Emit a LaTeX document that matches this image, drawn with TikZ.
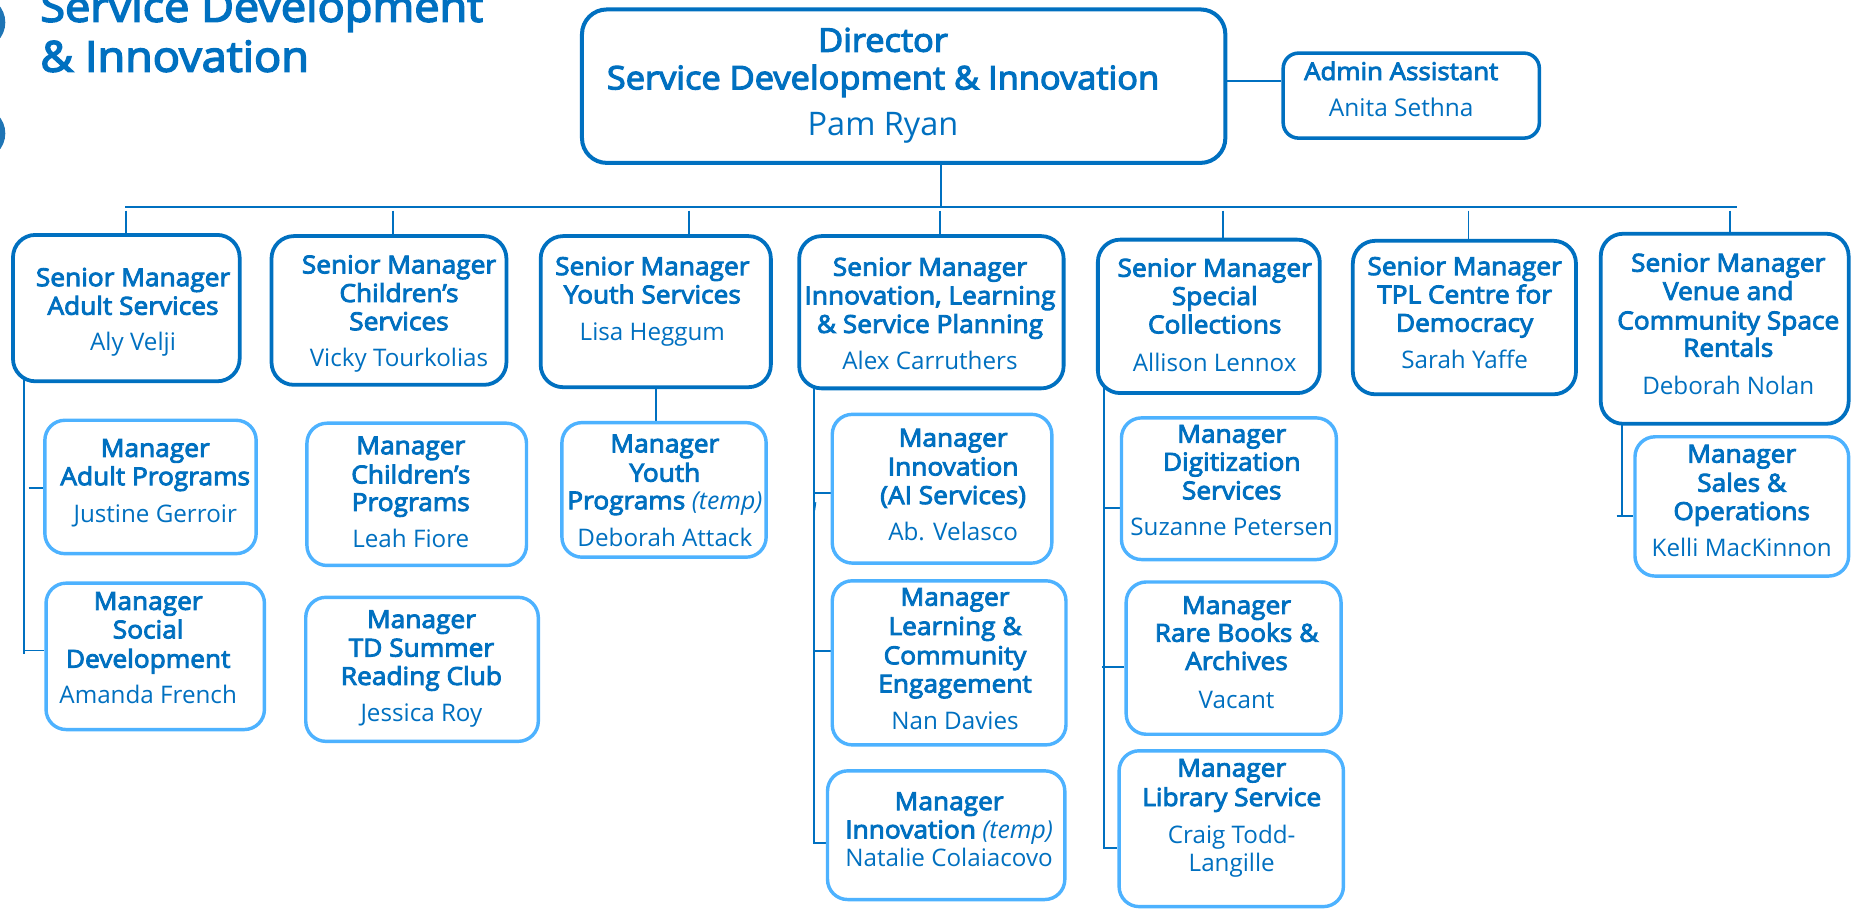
\documentclass[tikz,border=0pt]{standalone}
\usepackage{fontspec}
\setmainfont{Open Sans}
\newfontfamily\bfam{Open Sans}[FakeBold=3.6, FakeStretch=1.06]
\definecolor{dkb}{HTML}{0070C0}
\definecolor{ltb}{HTML}{4DB2FF}
\definecolor{dotb}{HTML}{1F75B5}
\pgfdeclarelayer{bg}
\pgfsetlayers{bg,main}
\tikzset{
  sbox/.style={draw=dkb, line width=3.2pt, rounded corners=19pt, fill=white},
  mbox/.style={draw=ltb, line width=2.9pt, rounded corners=17pt, fill=white},
  dbox/.style={draw=dkb, line width=3.4pt, rounded corners=21pt, fill=white},
  abox/.style={draw=dkb, line width=3pt, rounded corners=13pt, fill=white},
  conn/.style={draw=dkb, line width=1.6pt},
  lbl/.style={text=dkb, inner sep=0pt, anchor=base, font=\fontsize{21}{24}\selectfont},
  ttl/.style={text=dkb, inner sep=0pt, anchor=base west, font=\fontsize{36}{42}\selectfont\bfam},
}
\newcommand\orgbox[6]{%
  \node[#6, rectangle, inner sep=0pt, minimum width={(#4-#2)*1pt}, minimum height={(#5-#3)*1pt}] (#1) at ({(#2+#4)/2},{(#3+#5)/2}) {};}
\newcommand\orgtext[4][]{%
  \foreach \yy/\tx [count=\i] in {#4} {\node[lbl,#1] (#2-\i) at (#3,\yy) {\tx};}}
\newcommand\N[1]{{\fontsize{20.5}{24}\selectfont #1}}
\newcommand\B[1]{{\bfam #1}}
\begin{document}
\begin{tikzpicture}[x=1pt,y=-1pt]
\useasboundingbox (0,0) rectangle (1568,770);
\clip (0,0) rectangle (1568,770);
% decorative dots at left edge
\fill[dotb] (-18,19) circle (22.5);
\fill[dotb] (-18,113) circle (22.5);
% title
\node[ttl] (title1) at (34,18.4) {Service Development};
\node[ttl] (title2) at (34,60.7) {\& Innovation};

% boxes
\orgbox{dir}{493}{8}{1038}{138}{dbox}
\orgbox{admin}{1087}{45}{1304}{117}{abox}
\orgbox{s1}{11}{199}{203}{323}{sbox}
\orgbox{s2}{230}{200}{429}{326}{sbox}
\orgbox{s3}{458}{200}{653}{328}{sbox}
\orgbox{s4}{677}{200}{901}{329}{sbox}
\orgbox{s5}{930}{203}{1118}{333}{sbox}
\orgbox{s6}{1146}{204}{1335}{334}{sbox}
\orgbox{s7}{1356}{198}{1566}{359}{sbox}
\orgbox{m1}{38}{356}{217}{469}{mbox}
\orgbox{m2}{39}{494}{224}{618}{mbox}
\orgbox{m3}{260}{358.5}{446}{479}{mbox}
\orgbox{m4}{259}{506}{456}{628}{mbox}
\orgbox{m5}{476}{358}{649}{472}{mbox}
\orgbox{m6}{705}{351}{891}{477}{mbox}
\orgbox{m7}{705}{492}{903}{631}{mbox}
\orgbox{m8}{701}{653}{902}{762}{mbox}
\orgbox{m9}{950}{354}{1132}{474}{mbox}
\orgbox{m10}{954}{493}{1136}{622}{mbox}
\orgbox{m11}{948}{636}{1138}{768}{mbox}
\orgbox{m12}{1385}{370}{1566}{488}{mbox}

% connectors
\coordinate (ya) at (1060,68.3);
\coordinate (jd) at (797,175.4);
\coordinate (jd2) at (796.5,178.5);
\coordinate (bl) at (106,175.4);
\coordinate (br) at (1471.5,175.4);
\coordinate (j1) at (106.7,178.5);
\coordinate (j2) at (332.8,178.5);
\coordinate (j3) at (583.7,178.5);
\coordinate (j5) at (1036,178.5);
\coordinate (j6) at (1244,178.5);
\coordinate (j7) at (1465.5,178.5);
\coordinate (av) at (20.3,554);
\coordinate (at1) at (24.2,413.3);
\coordinate (at2) at (20.3,551);
\coordinate (yv) at (555.7,0);
\coordinate (iv) at (689.5,714.4);
\coordinate (it1) at (689.5,417.9);
\coordinate (it2) at (689.5,551.2);
\coordinate (mk1) at (690.9,425.5);
\coordinate (mk2) at (689.9,432.5);
\coordinate (sv) at (935,718);
\coordinate (st1) at (935,430.2);
\coordinate (st2) at (933.5,565.3);
\coordinate (vv) at (1373.7,437);
\coordinate (vt) at (1369.5,437.1);
\begin{pgfonlayer}{bg}
\draw[conn] (dir.east |- ya) -- (admin.west |- ya);
\draw[conn] (dir.center -| jd) -- (jd);
\draw[conn] (jd2) -- (s4.center -| jd2);
\draw[conn] (bl) -- (br);
\draw[conn] (j1) -- (s1.center -| j1);
\draw[conn] (j2) -- (s2.center -| j2);
\draw[conn] (j3) -- (s3.center -| j3);
\draw[conn] (j5) -- (s5.center -| j5);
\draw[conn] (j6) -- (s6.center -| j6);
\draw[conn] (j7) -- (s7.center -| j7);
% adult
\draw[conn] (s1.center -| av) -- (av);
\draw[conn] (at1) -- (m1.west |- at1);
\draw[conn] (at2) -- (m2.west |- at2);
% youth
\draw[conn] (s3.center -| yv) -- (m5.center -| yv);
% innovation
\draw[conn] (s4.center -| iv) -- (iv) -- (m8.west |- iv);
\draw[conn] (it1) -- (m6.west |- it1);
\draw[conn] (it2) -- (m7.west |- it2);
\draw[conn, line width=1.2pt] (mk1) -- (mk2);
% special collections
\draw[conn] (s5.center -| sv) -- (sv) -- (m11.west |- sv);
\draw[conn] (st1) -- (m9.west |- st1);
\draw[conn] (st2) -- (m10.west |- st2);
% venue
\draw[conn] (s7.center -| vv) -- (vv);
\draw[conn] (vt) -- (m12.west |- vt);
\end{pgfonlayer}

% texts
\orgtext[font=\fontsize{27.5}{32}\selectfont]{dirt}{748}{43.8/{\B{Director}}, 75.7/{\B{Service Development \& Innovation}}, 114.4/{Pam Ryan}}
\orgtext[font=\fontsize{20.7}{24}\selectfont]{admint}{1187}{67.8/{\B{Admin Assistant}}, 98.3/{Anita Sethna}}
\orgtext{s1t}{112.7}{242.4/{\B{Senior Manager}}, 266.6/{\B{Adult Services}}, 297.2/{\N{Aly Velji}}}
\orgtext{s2t}{338}{231.6/{\B{Senior Manager}}, 255.8/{\B{Children’s}}, 279.7/{\B{Services}}, 310.3/{\N{Vicky Tourkolias}}}
\orgtext{s3t}{552.6}{233/{\B{Senior Manager}}, 257/{\B{Youth Services}}, 288.4/{\N{Lisa Heggum}}}
\orgtext{s4t}{787.8}{233.6/{\B{Senior Manager}}, 257.8/{\B{Innovation, Learning}}, 282/{\B{\& Service Planning}}, 313.2/{\N{Alex Carruthers}}}
\orgtext{s5t}{1029}{234.4/{\B{Senior Manager}}, 258.4/{\B{Special}}, 282.4/{\B{Collections}}, 314.8/{\N{Allison Lennox}}}
\orgtext{s6t}{1240.7}{233/{\B{Senior Manager}}, 257/{\B{TPL Centre for}}, 281/{\B{Democracy}}, 312/{\N{Sarah Yaffe}}}
\orgtext{s7t}{1464}{230.1/{\B{Senior Manager}}, 254.1/{\B{Venue and}}, 279/{\B{Community Space}}, 302.1/{\B{Rentals}}, 334.6/{\N{Deborah Nolan}}}
\orgtext{m1t}{131.5}{387/{\B{Manager}}, 411/{\B{Adult Programs}}, 442.4/{\N{Justine Gerroir}}}
\orgtext{m2t}{125.5}{516.6/{\B{Manager}}, 540.8/{\B{Social}}, 565.6/{\B{Development}}, 596.2/{\N{Amanda French}}}
\orgtext{m3t}{348}{384.8/{\B{Manager}}, 409.5/{\B{Children’s}}, 432.8/{\B{Programs}}, 463.5/{\N{Leah Fiore}}}
\orgtext{m4t}{357}{532/{\B{Manager}}, 556.2/{\B{TD Summer}}, 580.2/{\B{Reading Club}}, 610.8/{\N{Jessica Roy}}}
\orgtext{m5t}{563.2}{383.2/{\B{Manager}}, 408/{\B{Youth}}, 431.4/{\B{Programs} \textit{(temp)}}, 462.9/{\N{Deborah Attack}}}
\orgtext{m6t}{807.4}{378.3/{\B{Manager}}, 402.8/{\B{Innovation}}, 427/{\B{(AI Services)}}, 458.2/{\N{Ab. Velasco}}}
\orgtext{m7t}{809}{513.1/{\B{Manager}}, 537.9/{\B{Learning \&}}, 562.7/{\B{Community}}, 586.6/{\B{Engagement}}, 617.6/{\N{Nan Davies}}}
\orgtext{m8t}{804}{686.2/{\B{Manager}}, 710.2/{\B{Innovation} \textit{(temp)}}, 734.2/{\N{Natalie Colaiacovo}}}
\orgtext{m9t}{1043.4}{375/{\B{Manager}}, 398.7/{\B{Digitization}}, 423/{\B{Services}}, 454/{\N{Suzanne Petersen}}}
\orgtext{m10t}{1047.5}{520.1/{\B{Manager}}, 543.6/{\B{Rare Books \&}}, 567.5/{\B{Archives}}, 600/{\N{Vacant}}}
\orgtext{m11t}{1043.4}{657.9/{\B{Manager}}, 682.8/{\B{Library Service}}, 714.4/{\N{Craig Todd-}}, 738.4/{\N{Langille}}}
\orgtext{m12t}{1475.4}{391.9/{\B{Manager}}, 416.5/{\B{Sales \&}}, 440.5/{\B{Operations}}, 471.5/{\N{Kelli MacKinnon}}}
\end{tikzpicture}
\end{document}
